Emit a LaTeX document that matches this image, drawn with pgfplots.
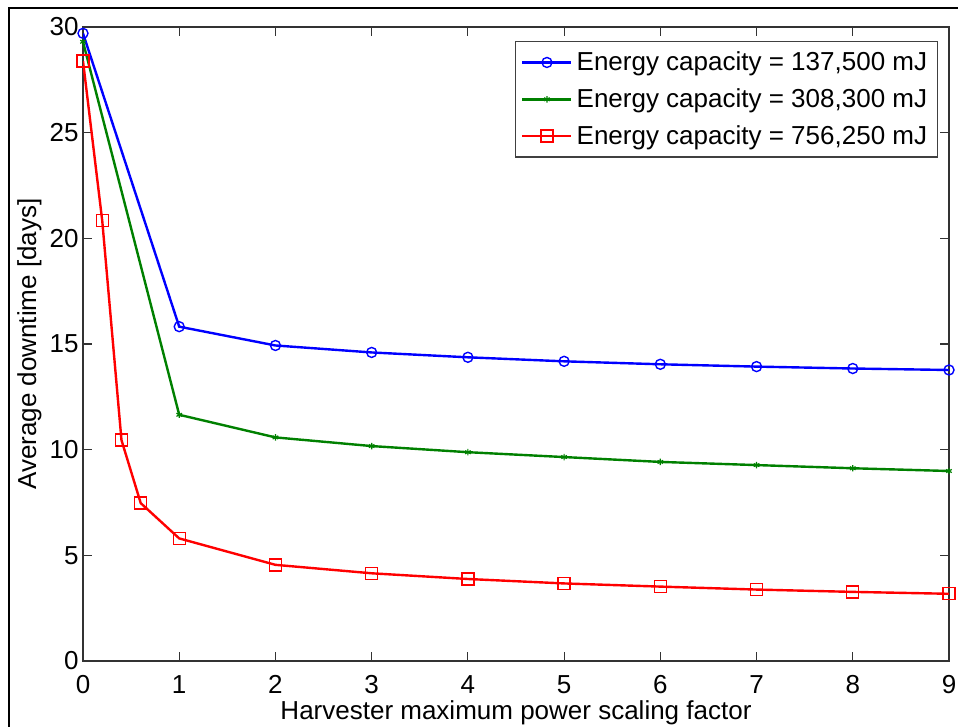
\documentclass[border=0pt]{standalone}
\usepackage{pgfplots}
\pgfplotsset{compat=1.18}
\usepackage{fontspec}
\setmainfont{Liberation Sans}
\definecolor{mblue}{RGB}{0,0,255}
\definecolor{mgreen}{RGB}{0,128,0}
\definecolor{mred}{RGB}{255,0,0}

\begin{document}
\begin{tikzpicture}
\begin{axis}[
  at={(0,0)}, anchor=south west, scale only axis,
  width=433pt, height=317pt,
  xmin=0, xmax=9, ymin=0, ymax=30,
  xtick={0,1,...,9}, ytick={0,5,...,30},
  tick align=inside, tick pos=both, major tick length=4.5pt,
  axis line style={black!80, line width=0.6pt},
  every tick/.style={black!80, line width=0.6pt},
  font=\fontsize{13}{15}\selectfont,
  tick label style={font=\fontsize{13}{15}\selectfont},
  xticklabel style={inner sep=2pt, yshift=-5pt},
  yticklabel style={inner sep=2pt},
  /pgf/number format/assume math mode=true,
  xlabel={Harvester maximum power scaling factor},
  ylabel={Average downtime [days]},
  xlabel style={at={(axis description cs:0.5,-0.0615)}, anchor=north, inner sep=0pt},
  ylabel style={at={(axis description cs:-0.0473,0.5)}, anchor=south, inner sep=0pt},
  legend cell align=left,
  legend style={at={(rel axis cs:0.987,0.978)}, anchor=north east,
    draw=black!75, line width=0.6pt, row sep=3.5pt, inner sep=3pt,
    font=\fontsize{13}{15}\selectfont},
  legend image code/.code={\draw[mark repeat=2,mark phase=2]
    plot coordinates {(0pt,0pt) (12.25pt,0pt) (24.5pt,0pt)};},
]
\addplot[mblue, line width=1.2pt, mark=o, mark size=2.5pt, mark options={line width=0.7pt}]
  coordinates {(0,29.7)(1,15.82)(2,14.93)(3,14.6)(4,14.37)(5,14.18)(6,14.04)(7,13.93)(8,13.84)(9,13.77)};
\addlegendentry{Energy capacity = 137,500 mJ}
\addplot[mgreen, line width=1.2pt, mark=asterisk, mark size=1.6pt, mark options={line width=0.6pt}]
  coordinates {(0,29.3)(1,11.65)(2,10.58)(3,10.17)(4,9.88)(5,9.65)(6,9.42)(7,9.27)(8,9.12)(9,8.99)};
\addlegendentry{Energy capacity = 308,300 mJ}
\addplot[mred, line width=1.2pt, mark=square, mark size=3pt, mark options={line width=0.7pt}]
  coordinates {(0,28.39)(0.2,20.83)(0.4,10.45)(0.6,7.47)(1,5.8)(2,4.55)(3,4.15)(4,3.88)(5,3.67)(6,3.52)(7,3.38)(8,3.27)(9,3.18)};
\addlegendentry{Energy capacity = 756,250 mJ}
\end{axis}
\draw[line width=1pt] (-37pt,-33pt) -- (-37pt,326.5pt) -- (437.5pt,326.5pt);
\pgfresetboundingbox
\path[use as bounding box] (-41.5pt,-33pt) rectangle (437.5pt,330.5pt);
\end{tikzpicture}
\end{document}
